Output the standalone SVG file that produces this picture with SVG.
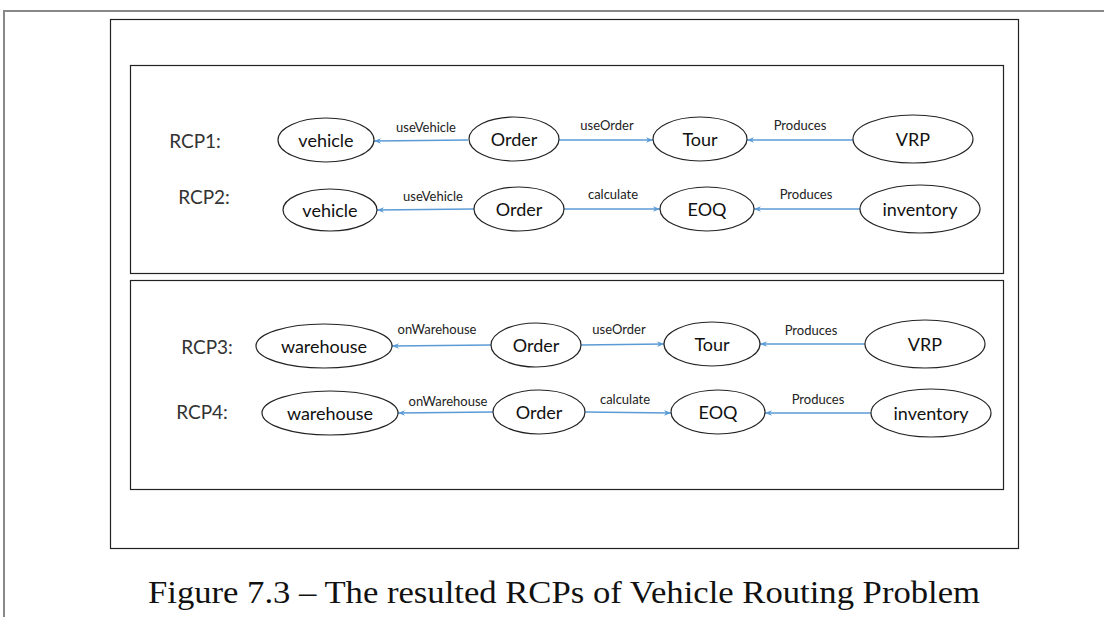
<svg xmlns="http://www.w3.org/2000/svg" width="1104" height="617" viewBox="0 0 1104 617">
<defs>
<marker id="ah" viewBox="0 0 10 10" refX="10" refY="5" markerWidth="7" markerHeight="7" orient="auto-start-reverse" markerUnits="userSpaceOnUse">
<path d="M0,1 L10,5 L0,9 L3,5 Z" fill="#5b9bd5"/>
</marker>
<style>
.frame{fill:none;stroke:#222;stroke-width:1.2}
.page{fill:none;stroke:#888;stroke-width:2}
.node ellipse{fill:#fff;stroke:#222;stroke-width:1.2}
.node text{font-family:Lato,"Liberation Sans",sans-serif;font-size:18px;fill:#111;text-anchor:middle;dominant-baseline:central}
.rcp{font-family:Lato,"Liberation Sans",sans-serif;font-size:19px;fill:#333;text-anchor:middle;dominant-baseline:central}
.elab{font-family:Lato,"Liberation Sans",sans-serif;font-size:13px;fill:#222;text-anchor:middle;dominant-baseline:central}
.edge{stroke:#5b9bd5;stroke-width:1.3;fill:none;marker-end:url(#ah)}
.cap{font-family:"Liberation Serif",serif;font-size:32px;fill:#111;text-anchor:middle}
</style>
</defs>
<rect width="1104" height="617" fill="#fff"/>
<path class="page" d="M4,617 V11 H1104"/>
<rect class="frame" x="110.5" y="19.5" width="908" height="529"/>
<rect class="frame" x="130.5" y="65.5" width="873" height="208"/>
<rect class="frame" x="130.5" y="280.5" width="873" height="209"/>

<text class="rcp" x="195" y="140">RCP1:</text>
<text class="rcp" x="204" y="196">RCP2:</text>
<text class="rcp" x="207" y="346">RCP3:</text>
<text class="rcp" x="202" y="411">RCP4:</text>

<g id="connectors">
<line class="edge" x1="468" y1="140" x2="374" y2="141"/>
<line class="edge" x1="559" y1="140" x2="653" y2="140"/>
<line class="edge" x1="853" y1="140" x2="747" y2="140"/>
<line class="edge" x1="474" y1="209" x2="377" y2="210"/>
<line class="edge" x1="564" y1="209" x2="660" y2="209"/>
<line class="edge" x1="860" y1="209" x2="754" y2="209"/>
<line class="edge" x1="491" y1="345" x2="392" y2="346"/>
<line class="edge" x1="581" y1="345" x2="664" y2="344"/>
<line class="edge" x1="865" y1="344" x2="760" y2="344"/>
<line class="edge" x1="493" y1="412" x2="398" y2="413"/>
<line class="edge" x1="585" y1="412" x2="671" y2="413"/>
<line class="edge" x1="871" y1="413" x2="765" y2="413"/>
<text class="elab" x="426" y="127">useVehicle</text>
<text class="elab" x="607" y="125">useOrder</text>
<text class="elab" x="800" y="125">Produces</text>
<text class="elab" x="433" y="196">useVehicle</text>
<text class="elab" x="613" y="194">calculate</text>
<text class="elab" x="806" y="194">Produces</text>
<text class="elab" x="437" y="329">onWarehouse</text>
<text class="elab" x="619" y="329">useOrder</text>
<text class="elab" x="811" y="330">Produces</text>
<text class="elab" x="448" y="401">onWarehouse</text>
<text class="elab" x="625" y="399">calculate</text>
<text class="elab" x="818" y="399">Produces</text>
</g>

<g id="n1-vehicle" class="node"><ellipse cx="326" cy="140" rx="48" ry="22"/><text x="326" y="140">vehicle</text></g>
<g id="n1-order" class="node"><ellipse cx="514" cy="139" rx="45" ry="22"/><text x="514" y="139">Order</text></g>
<g id="n1-tour" class="node"><ellipse cx="700" cy="139" rx="47" ry="22"/><text x="700" y="139">Tour</text></g>
<g id="n1-vrp" class="node"><ellipse cx="913" cy="139" rx="60" ry="24"/><text x="913" y="139">VRP</text></g>

<g id="n2-vehicle" class="node"><ellipse cx="330" cy="210" rx="47" ry="21"/><text x="330" y="210">vehicle</text></g>
<g id="n2-order" class="node"><ellipse cx="519" cy="209" rx="45" ry="22"/><text x="519" y="209">Order</text></g>
<g id="n2-eoq" class="node"><ellipse cx="707" cy="209" rx="47" ry="22"/><text x="707" y="209">EOQ</text></g>
<g id="n2-inventory" class="node"><ellipse cx="920" cy="209" rx="60" ry="24"/><text x="920" y="209">inventory</text></g>

<g id="n3-warehouse" class="node"><ellipse cx="324" cy="346" rx="68" ry="22"/><text x="324" y="346">warehouse</text></g>
<g id="n3-order" class="node"><ellipse cx="536" cy="345" rx="45" ry="22"/><text x="536" y="345">Order</text></g>
<g id="n3-tour" class="node"><ellipse cx="712" cy="344" rx="48" ry="22"/><text x="712" y="344">Tour</text></g>
<g id="n3-vrp" class="node"><ellipse cx="925" cy="344" rx="60" ry="24"/><text x="925" y="344">VRP</text></g>

<g id="n4-warehouse" class="node"><ellipse cx="330" cy="413" rx="68" ry="22"/><text x="330" y="413">warehouse</text></g>
<g id="n4-order" class="node"><ellipse cx="539" cy="412" rx="46" ry="22"/><text x="539" y="412">Order</text></g>
<g id="n4-eoq" class="node"><ellipse cx="718" cy="412" rx="47" ry="22"/><text x="718" y="412">EOQ</text></g>
<g id="n4-inventory" class="node"><ellipse cx="931" cy="413" rx="60" ry="24"/><text x="931" y="413">inventory</text></g>

<text class="cap" x="564" y="603" textLength="832" lengthAdjust="spacingAndGlyphs">Figure 7.3 – The resulted RCPs of Vehicle Routing Problem</text>
</svg>
